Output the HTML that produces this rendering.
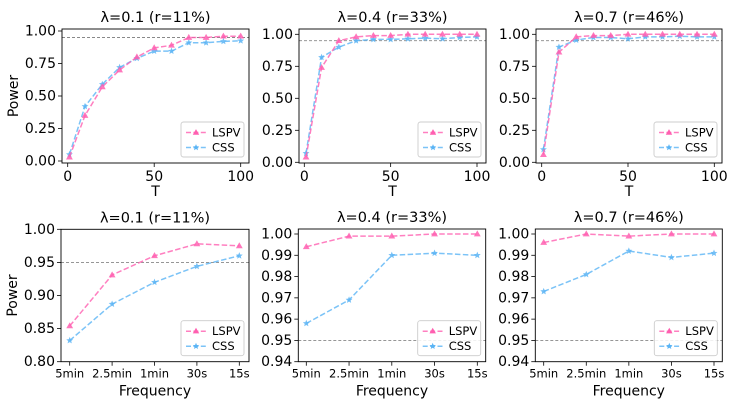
<!DOCTYPE html>
<html><head><meta charset="utf-8">
<style>
html,body{margin:0;padding:0;background:#fff;}
svg{display:block;font-family:"DejaVu Sans","Liberation Sans",sans-serif;}
</style></head>
<body>
<svg id="fig" width="743" height="408" viewBox="0 0 743 408" xmlns="http://www.w3.org/2000/svg"></svg>
<script>
// ---- data ----
const tValues = [1,10,20,30,40,50,60,70,80,90,100];
const freqLabels = ["5min","2.5min","1min","30s","15s"];
const topTitles = ["λ=0.1 (r=11%)","λ=0.4 (r=33%)","λ=0.7 (r=46%)"];
const lspvT1 = [0.03,0.35,0.57,0.70,0.80,0.87,0.89,0.95,0.95,0.96,0.96];
const cssT1  = [0.05,0.42,0.59,0.72,0.79,0.845,0.845,0.91,0.91,0.92,0.925];
const lspvT2 = [0.04,0.74,0.95,0.98,0.99,0.99,1.0,1.0,1.0,1.0,1.0];
const cssT2  = [0.07,0.82,0.90,0.95,0.96,0.96,0.965,0.97,0.965,0.975,0.98];
const lspvT3 = [0.06,0.86,0.98,0.99,0.99,1.0,1.0,1.0,1.0,1.0,1.0];
const cssT3  = [0.10,0.90,0.955,0.975,0.975,0.965,0.98,0.98,0.985,0.98,0.98];
const lspvF1 = [0.854,0.931,0.960,0.978,0.975];
const cssF1  = [0.832,0.887,0.920,0.944,0.960];
const lspvF2 = [0.994,0.999,0.999,1.000,1.000];
const cssF2  = [0.958,0.969,0.990,0.991,0.990];
const lspvF3 = [0.996,1.000,0.999,1.000,1.000];
const cssF3  = [0.973,0.981,0.992,0.989,0.991];
const topYTicks = [0,0.25,0.5,0.75,1.0];
const topXTicks = [0,50,100];
const bot1YTicks = [0.80,0.85,0.90,0.95,1.00];
const bot23YTicks = [0.94,0.95,0.96,0.97,0.98,0.99,1.00];

const svg = document.getElementById('fig');
const NS = "http://www.w3.org/2000/svg";
function mk(tag, attrs, parent){const e=document.createElementNS(NS,tag);for(const k in attrs)e.setAttribute(k,attrs[k]);(parent||svg).appendChild(e);return e;}
function txt(s, attrs, parent){const e=mk('text',attrs,parent);e.textContent=s;return e;}

const PINK="#ff5fb0", BLUE="#5ab4f5";

function star(cx,cy,r){let p=[];for(let i=0;i<10;i++){const a=-Math.PI/2+i*Math.PI/5;const rr=i%2?r*0.45:r;p.push((cx+rr*Math.cos(a)).toFixed(2)+","+(cy+rr*Math.sin(a)).toFixed(2));}return p.join(" ");}
function tri(cx,cy,r){return [cx,cy-r,cx-r*0.95,cy+r*0.65,cx+r*0.95,cy+r*0.65].map(v=>v.toFixed(2)).join(" ").replace(/(\S+) (\S+)/g,"$1,$2");}

function panel(cfg){
  const g = mk('g',{});
  
  
  const {L,R,T,B} = cfg.box;
  const sx = v => cfg.x0px + (v-cfg.x0)*(cfg.x1px-cfg.x0px)/(cfg.x1-cfg.x0);
  const sy = v => cfg.y0px + (v-cfg.y0)*(cfg.y1px-cfg.y0px)/(cfg.y1-cfg.y0);
  // ref line
  const rl = mk('line',{x1:L,x2:R,y1:sy(0.95),y2:sy(0.95),stroke:"#888",'stroke-width':0.9,'stroke-dasharray':"3,2"},g);
  
  
  // y ticks
  cfg.yticks.forEach(v=>{
    const y=sy(v);
    mk('line',{x1:L-4,x2:L,y1:y,y2:y,stroke:"#000",'stroke-width':0.8},g);
    const t=txt(v.toFixed(cfg.ydec),{x:L-6,y:y+4.5,'text-anchor':'end','font-size':cfg.tfs},g);
    
    
  });
  // x ticks
  cfg.xticks.forEach((v,i)=>{
    const x=sx(v);
    mk('line',{x1:x,x2:x,y1:B,y2:B+4,stroke:"#000",'stroke-width':0.8},g);
    const t=txt(cfg.xlabels[i],{x:x,y:B+(cfg.xfs>12?18:16),'text-anchor':'middle','font-size':cfg.xfs},g);
    
    
  });
  // series
  const series=[{d:cfg.css,c:BLUE,m:'star',n:'css'},{d:cfg.lspv,c:PINK,m:'tri',n:'lspv'}];
  series.forEach(s=>{
    const pts=s.d.map((v,i)=>sx(cfg.xs[i]).toFixed(2)+","+sy(v).toFixed(2)).join(" ");
    const pl=mk('polyline',{points:pts,fill:'none',stroke:s.c,'stroke-width':1.5,'stroke-dasharray':'5.5,2.4','stroke-opacity':0.8},g);
    
    
    s.d.forEach((v,i)=>{
      const cx=sx(cfg.xs[i]),cy=sy(v);
      const m=mk('polygon',{points:s.m==='tri'?tri(cx,cy,3.6):star(cx,cy,3.6),fill:s.c,'fill-opacity':0.85},g);
      
      
    });
  });
  // frame
  const fr=mk('rect',{x:L,y:T,width:R-L,height:B-T,fill:'none',stroke:'#000','stroke-width':0.9},g);
  
  
  // title
  const ti=txt(cfg.title,{x:(L+R)/2,y:T-7,'text-anchor':'middle','font-size':14.5},g);
  
  
  const xl=txt(cfg.xlabel,{x:(L+R)/2,y:B+(cfg.xlabel==='T'?33:34),'text-anchor':'middle','font-size':14},g);
  
  
  if(cfg.ylabel){
    const yl=txt('Power',{x:0,y:0,'text-anchor':'middle','font-size':14,transform:`translate(${L-44},${(T+B)/2}) rotate(-90)`},g);
    
    
  }
  // legend
  const lg=mk('g',{},g);
  
  
  const lw=63,lh=35,lx=R-5-lw,ly=B-6-lh;
  mk('rect',{x:lx,y:ly,width:lw,height:lh,rx:2.5,fill:'#fff','fill-opacity':0.85,stroke:'#ccc','stroke-width':0.9},lg);
  [{c:PINK,m:'tri',l:'LSPV'},{c:BLUE,m:'star',l:'CSS'}].forEach((e,i)=>{
    const yy=ly+10.5+i*15;
    const eg=mk('g',{},lg);
    
    
    mk('line',{x1:lx+5,x2:lx+25,y1:yy,y2:yy,stroke:e.c,'stroke-width':1.5,'stroke-dasharray':'5,2.4','stroke-opacity':0.8},eg);
    mk('polygon',{points:e.m==='tri'?tri(lx+15,yy,3.4):star(lx+15,yy,3.4),fill:e.c},eg);
    txt(e.l,{x:lx+31,y:yy+4,'font-size':11.5},eg);
  });
}

const fIdx=[0,1,2,3,4];
// top row
panel({name:'panel-t-lambda-01',box:{L:62,R:249,T:29,B:163},x0:0,x1:100,x0px:67.7,x1px:240.7,y0:0,y1:1,y0px:161,y1px:31,
  xs:tValues,lspv:lspvT1,css:cssT1,yticks:topYTicks,ydec:2,xticks:topXTicks,xlabels:topXTicks.map(String),xfs:14,tfs:14,title:topTitles[0],xlabel:'T',ylabel:true});
panel({name:'panel-t-lambda-04',box:{L:299,R:486,T:29,B:163},x0:0,x1:100,x0px:304.3,x1px:477,y0:0,y1:1,y0px:162.3,y1px:34.3,
  xs:tValues,lspv:lspvT2,css:cssT2,yticks:topYTicks,ydec:2,xticks:topXTicks,xlabels:topXTicks.map(String),xfs:14,tfs:14,title:topTitles[1],xlabel:'T',ylabel:false});
panel({name:'panel-t-lambda-07',box:{L:536,R:722,T:29,B:163},x0:0,x1:100,x0px:541.7,x1px:714.3,y0:0,y1:1,y0px:162.3,y1px:34.3,
  xs:tValues,lspv:lspvT3,css:cssT3,yticks:topYTicks,ydec:2,xticks:topXTicks,xlabels:topXTicks.map(String),xfs:14,tfs:14,title:topTitles[2],xlabel:'T',ylabel:false});
// bottom row
panel({name:'panel-freq-lambda-01',box:{L:61,R:249,T:229.3,B:361.7},x0:0,x1:4,x0px:69.7,x1px:239.3,y0:0.8,y1:1.0,y0px:361.7,y1px:229.3,
  xs:fIdx,lspv:lspvF1,css:cssF1,yticks:bot1YTicks,ydec:2,xticks:fIdx,xlabels:freqLabels,xfs:11.5,tfs:14,title:topTitles[0],xlabel:'Frequency',ylabel:true});
panel({name:'panel-freq-lambda-04',box:{L:298.3,R:485.7,T:229,B:361.7},x0:0,x1:4,x0px:306.3,x1px:477.3,y0:0.94,y1:1.0,y0px:361.7,y1px:234,
  xs:fIdx,lspv:lspvF2,css:cssF2,yticks:bot23YTicks,ydec:2,xticks:fIdx,xlabels:freqLabels,xfs:11.5,tfs:14,title:topTitles[1],xlabel:'Frequency',ylabel:false});
panel({name:'panel-freq-lambda-07',box:{L:535.3,R:722.3,T:229,B:361.7},x0:0,x1:4,x0px:543.7,x1px:714,y0:0.94,y1:1.0,y0px:361.7,y1px:234,
  xs:fIdx,lspv:lspvF3,css:cssF3,yticks:bot23YTicks,ydec:2,xticks:fIdx,xlabels:freqLabels,xfs:11.5,tfs:14,title:topTitles[2],xlabel:'Frequency',ylabel:false});
</script>
</body></html>
